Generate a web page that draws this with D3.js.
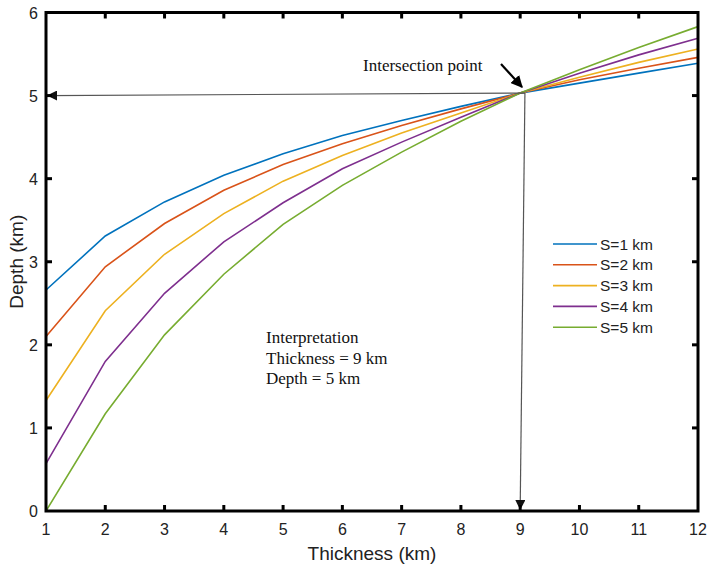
<!DOCTYPE html>
<html lang="en">
<head>
<meta charset="UTF-8">
<title>Depth vs Thickness</title>
<script src="https://d3js.org/d3.v7.min.js"></script>
<style>
  body { margin: 0; background: #fff; }
  svg { display: block; }
  .tick-label { font-family: "Liberation Sans", Arial, sans-serif; font-size: 16px; fill: #222; }
  .axis-title { font-family: "Liberation Sans", Arial, sans-serif; font-size: 19px; fill: #222; }
  .legend-text { font-family: "Liberation Sans", Arial, sans-serif; font-size: 15.5px; fill: #222; }
  .note { font-family: "Liberation Serif", "Times New Roman", serif; font-size: 17px; fill: #111; }
</style>
</head>
<body>
<svg id="chart" width="707" height="565"></svg>
<script>
// data
const thickness = [1, 2, 3, 4, 5, 6, 7, 8, 9, 10, 11, 12];
const seriesNames = ["S=1 km", "S=2 km", "S=3 km", "S=4 km", "S=5 km"];
const depthS1 = [2.66, 3.31, 3.72, 4.04, 4.30, 4.52, 4.70, 4.87, 5.03, 5.15, 5.27, 5.39];
const depthS2 = [2.10, 2.94, 3.46, 3.86, 4.17, 4.42, 4.64, 4.84, 5.03, 5.19, 5.33, 5.46];
const depthS3 = [1.33, 2.41, 3.09, 3.58, 3.97, 4.28, 4.55, 4.79, 5.03, 5.22, 5.40, 5.56];
const depthS4 = [0.57, 1.80, 2.62, 3.24, 3.71, 4.12, 4.44, 4.74, 5.03, 5.27, 5.49, 5.69];
const depthS5 = [0.00, 1.17, 2.12, 2.85, 3.45, 3.92, 4.32, 4.69, 5.03, 5.31, 5.58, 5.83];
const colors = ["#0072BD", "#D95319", "#EDB120", "#7E2F8E", "#77AC30"];
const xTicks = [1, 2, 3, 4, 5, 6, 7, 8, 9, 10, 11, 12];
const yTicks = [0, 1, 2, 3, 4, 5, 6];

const allSeries = [depthS1, depthS2, depthS3, depthS4, depthS5];

const svg = d3.select("#chart");
const x = d3.scaleLinear().domain([1, 12]).range([46, 698]);
const y = d3.scaleLinear().domain([0, 6]).range([511, 12.5]);

// arrowheads
const defs = svg.append("defs");
defs.append("marker")
    .attr("id", "tri")
    .attr("viewBox", "0 0 10 10")
    .attr("refX", 10).attr("refY", 5)
    .attr("markerWidth", 10).attr("markerHeight", 10)
    .attr("markerUnits", "userSpaceOnUse")
    .attr("orient", "auto")
  .append("path")
    .attr("d", "M0,0 L10,5 L0,10 Z")
    .attr("fill", "#111");
defs.append("marker")
    .attr("id", "tri2")
    .attr("viewBox", "0 0 10 10")
    .attr("refX", 9).attr("refY", 5)
    .attr("markerWidth", 12).attr("markerHeight", 12)
    .attr("markerUnits", "userSpaceOnUse")
    .attr("orient", "auto")
  .append("path")
    .attr("d", "M0,0 L10,5 L0,10 Z")
    .attr("fill", "#000");

// data lines
const line = d3.line()
    .x((d, i) => x(thickness[i]))
    .y(d => y(d));

svg.append("g").selectAll("path")
    .data(allSeries)
    .join("path")
    .attr("d", line)
    .attr("fill", "none")
    .attr("stroke", (d, i) => colors[i])
    .attr("stroke-width", 1.6);

// guide arrows from the intersection point
svg.append("line")
    .attr("x1", x(9.08)).attr("y1", y(5.03))
    .attr("x2", x(1) + 1).attr("y2", y(5.0))
    .attr("stroke", "#555").attr("stroke-width", 1.2)
    .attr("marker-end", "url(#tri)");
svg.append("line")
    .attr("x1", x(9.08)).attr("y1", y(5.03))
    .attr("x2", x(9.0)).attr("y2", y(0) - 1)
    .attr("stroke", "#555").attr("stroke-width", 1.2)
    .attr("marker-end", "url(#tri)");

// axes box with inward ticks on all sides
const axisG = svg.append("g");
axisG.append("rect")
    .attr("x", x(1)).attr("y", y(6))
    .attr("width", x(12) - x(1)).attr("height", y(0) - y(6))
    .attr("fill", "none").attr("stroke", "#000").attr("stroke-width", 3);

const tickLen = 6;
xTicks.slice(1, -1).forEach(t => {
    axisG.append("line").attr("x1", x(t)).attr("x2", x(t))
        .attr("y1", y(0)).attr("y2", y(0) - tickLen)
        .attr("stroke", "#000").attr("stroke-width", 3);
    axisG.append("line").attr("x1", x(t)).attr("x2", x(t))
        .attr("y1", y(6)).attr("y2", y(6) + tickLen)
        .attr("stroke", "#000").attr("stroke-width", 3);
});
yTicks.slice(1, -1).forEach(t => {
    axisG.append("line").attr("x1", x(1)).attr("x2", x(1) + tickLen)
        .attr("y1", y(t)).attr("y2", y(t))
        .attr("stroke", "#000").attr("stroke-width", 3);
    axisG.append("line").attr("x1", x(12)).attr("x2", x(12) - tickLen)
        .attr("y1", y(t)).attr("y2", y(t))
        .attr("stroke", "#000").attr("stroke-width", 3);
});

// tick labels
svg.append("g").selectAll("text")
    .data(xTicks)
    .join("text")
    .attr("class", "tick-label")
    .attr("x", d => x(d))
    .attr("y", 535)
    .attr("text-anchor", "middle")
    .text(d => d);
svg.append("g").selectAll("text")
    .data(yTicks)
    .join("text")
    .attr("class", "tick-label")
    .attr("x", 38)
    .attr("y", d => y(d) + 6)
    .attr("text-anchor", "end")
    .text(d => d);

// axis titles
svg.append("text")
    .attr("class", "axis-title")
    .attr("x", (x(1) + x(12)) / 2)
    .attr("y", 560)
    .attr("text-anchor", "middle")
    .text("Thickness (km)");
svg.append("text")
    .attr("class", "axis-title")
    .attr("transform", `translate(23,${(y(0) + y(6)) / 2}) rotate(-90)`)
    .attr("text-anchor", "middle")
    .text("Depth (km)");

// legend
const legend = svg.append("g");
seriesNames.forEach((name, i) => {
    const ly = 244 + i * 20.8;
    legend.append("line")
        .attr("x1", 553).attr("x2", 597)
        .attr("y1", ly).attr("y2", ly)
        .attr("stroke", colors[i]).attr("stroke-width", 1.6);
    legend.append("text")
        .attr("class", "legend-text")
        .attr("x", 600).attr("y", ly + 5.5)
        .text(name);
});

// annotations
svg.append("text").attr("class", "note")
    .attr("x", 363).attr("y", 71)
    .text("Intersection point");
svg.append("line")
    .attr("x1", 501).attr("y1", 64)
    .attr("x2", 522).attr("y2", 87)
    .attr("stroke", "#000").attr("stroke-width", 2.2)
    .attr("marker-end", "url(#tri2)");

const notes = ["Interpretation", "Thickness = 9 km", "Depth = 5 km"];
svg.append("g").selectAll("text")
    .data(notes)
    .join("text")
    .attr("class", "note")
    .attr("x", 266)
    .attr("y", (d, i) => 343 + i * 20.5)
    .text(d => d);
</script>
</body>
</html>
